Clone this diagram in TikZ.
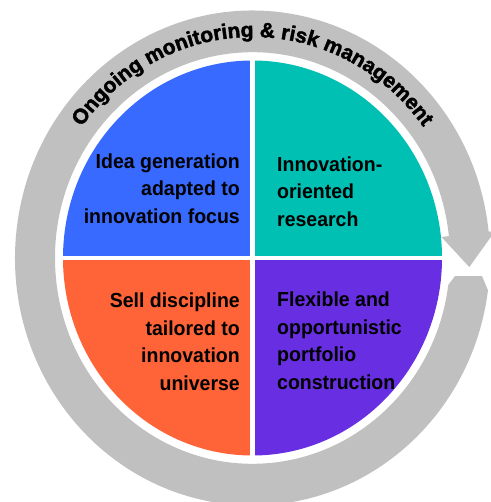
\documentclass[tikz,border=0pt]{standalone}
\usepackage{fontspec}
\setmainfont{Liberation Sans}
\newfontface\ringface[FakeBold=2]{Liberation Sans Bold}
\usetikzlibrary{decorations.text}

\definecolor{qblue}{HTML}{396AFF}
\definecolor{qteal}{HTML}{00BFB3}
\definecolor{qorange}{HTML}{FF6338}
\definecolor{qpurple}{HTML}{682EE2}
\definecolor{ringgray}{HTML}{C0C0C0}

\newcommand\quadfont{\fontsize{19.5}{26.4}\selectfont\bfseries}
\newcommand\ringfont{\ringface\fontsize{21}{24}\selectfont}

\tikzset{
  qtext/.style={font=\quadfont, inner sep=0pt, yscale=1.04, text=black},
  ringtitle/.style={decorate, decoration={text along path,
      text={|\ringfont|Ongoing monitoring {\&} risk management},
      text align=center, text color=black}},
}

\begin{document}
\begin{tikzpicture}[x=1pt,y=1pt]
\useasboundingbox (0,0) rectangle (490,-502);
\coordinate (c) at (252.5,-258);

\begin{scope}[shift={(c)}]
  % grey cycle ring with arrow head on the right
  \fill[ringgray]
    (-7.5:237.5 and 247.5)
      arc[start angle=-7.5, end angle=-353.9, x radius=237.5, y radius=247.5]
    -- (6.1:244 and 254)
    -- (-2.3:217 and 226)
    -- (6.1:190 and 198)
    -- (6.1:197.5 and 205.8)
      arc[start angle=6.1, end angle=352.5, x radius=197.5, y radius=205.8]
    -- (202.5,-18) -- (229.5,-18) -- cycle;

  % four quadrants
  \fill[qblue]   (0,0) -- (90:189.5 and 197.5)
    arc[start angle=90, end angle=180, x radius=189.5, y radius=197.5] -- cycle;
  \fill[qteal]   (0,0) -- (0:189.5 and 197.5)
    arc[start angle=0, end angle=90, x radius=189.5, y radius=197.5] -- cycle;
  \fill[qorange] (0,0) -- (180:189.5 and 197.5)
    arc[start angle=180, end angle=270, x radius=189.5, y radius=197.5] -- cycle;
  \fill[qpurple] (0,0) -- (270:189.5 and 197.5)
    arc[start angle=270, end angle=360, x radius=189.5, y radius=197.5] -- cycle;
  \draw[white, line width=5pt] (0,200) -- (0,-200);
  \draw[white, line width=4pt] (-195,0) -- (195,0);

  % curved title along the ring
  \ringfont
  \path[ringtitle]
    (-212,0) arc[start angle=180, end angle=0, x radius=212, y radius=221];
\end{scope}

\node[qtext, anchor=north east, align=right] (idea) at (240,-153.5)
  {Idea generation\\adapted to\\innovation focus};
\node[qtext, anchor=north west, align=left] (research) at (277,-156.5)
  {Innovation-\\oriented\\research};
\node[qtext, anchor=north east, align=right] (sell) at (240,-293)
  {Sell discipline\\tailored to\\innovation\\universe};
\node[qtext, anchor=north west, align=left] (portfolio) at (277,-292)
  {Flexible and\\opportunistic\\portfolio\\construction};
\end{tikzpicture}
\end{document}
